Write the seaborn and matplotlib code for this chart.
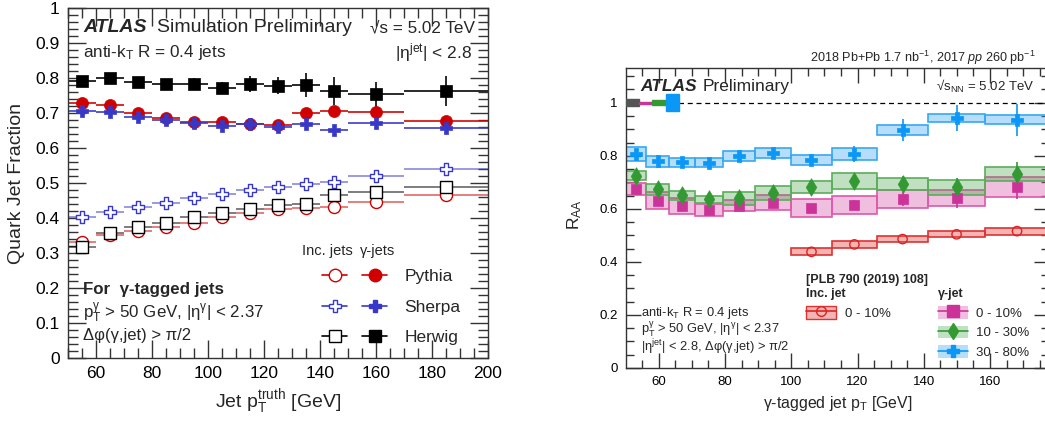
import numpy as np
import matplotlib
matplotlib.use("Agg")
import matplotlib.pyplot as plt
import seaborn as sns
from matplotlib.lines import Line2D
from matplotlib.patches import Patch
from matplotlib.legend_handler import HandlerTuple
from matplotlib.ticker import MultipleLocator, FuncFormatter

# ---------------- Quark-jet fraction vs truth jet pT ----------------
qf_edges = [50, 60, 70, 80, 90, 100, 110, 120, 130, 140, 150, 170, 200]

pythia_gamma = [0.730, 0.723, 0.699, 0.685, 0.674, 0.675, 0.669, 0.666, 0.701, 0.706, 0.702, 0.677]
pythia_gamma_err = [0.006, 0.006, 0.006, 0.006, 0.006, 0.006, 0.007, 0.008, 0.008, 0.009, 0.009, 0.010]
pythia_inc = [0.332, 0.351, 0.364, 0.375, 0.387, 0.404, 0.413, 0.425, 0.428, 0.432, 0.447, 0.466]

sherpa_gamma = [0.706, 0.704, 0.690, 0.680, 0.672, 0.663, 0.668, 0.661, 0.668, 0.651, 0.672, 0.658]
sherpa_gamma_err = [0.006, 0.006, 0.006, 0.007, 0.007, 0.008, 0.008, 0.009, 0.010, 0.014, 0.012, 0.015]
sherpa_inc = [0.404, 0.416, 0.432, 0.444, 0.456, 0.469, 0.480, 0.489, 0.497, 0.502, 0.520, 0.539]

herwig_gamma = [0.792, 0.799, 0.788, 0.782, 0.783, 0.772, 0.783, 0.778, 0.780, 0.763, 0.753, 0.763]
herwig_gamma_err = [0.008, 0.008, 0.010, 0.010, 0.017, 0.017, 0.023, 0.024, 0.033, 0.040, 0.036, 0.043]
herwig_inc = [0.318, 0.358, 0.375, 0.387, 0.402, 0.413, 0.425, 0.437, 0.439, 0.466, 0.473, 0.488]

inc_err = 0.004

# ---------------- Photon-tagged jet RAA ----------------
raa_edges = [50.1, 56.2, 63.1, 70.8, 79.4, 89.1, 100.0, 112.2, 125.9, 141.3, 158.5, 177.8]

raa_0_10 = [0.676, 0.631, 0.611, 0.596, 0.612, 0.623, 0.604, 0.614, 0.637, 0.640, 0.683]
raa_0_10_stat = [0.010, 0.010, 0.010, 0.010, 0.010, 0.012, 0.014, 0.020, 0.028, 0.035, 0.045]
raa_0_10_sys = [0.023, 0.033, 0.030, 0.022, 0.021, 0.028, 0.033, 0.033, 0.033, 0.031, 0.038]

raa_10_30 = [0.725, 0.673, 0.652, 0.636, 0.640, 0.659, 0.681, 0.706, 0.694, 0.681, 0.731]
raa_10_30_stat = [0.010, 0.010, 0.010, 0.010, 0.010, 0.012, 0.014, 0.020, 0.028, 0.035, 0.045]
raa_10_30_sys = [0.018, 0.021, 0.017, 0.014, 0.024, 0.026, 0.023, 0.030, 0.024, 0.028, 0.025]

raa_30_80 = [0.807, 0.780, 0.775, 0.774, 0.800, 0.812, 0.784, 0.807, 0.897, 0.943, 0.936]
raa_30_80_stat = [0.010, 0.012, 0.010, 0.010, 0.012, 0.015, 0.020, 0.030, 0.040, 0.050, 0.060]
raa_30_80_sys = [0.025, 0.021, 0.016, 0.017, 0.018, 0.019, 0.020, 0.022, 0.019, 0.016, 0.018]

inc_edges = [100.0, 112.2, 125.9, 141.3, 158.5, 177.8]
raa_inc = [0.438, 0.466, 0.486, 0.504, 0.516]
raa_inc_sys = [0.013, 0.013, 0.012, 0.012, 0.013]

# global uncertainties drawn at unity: pp luminosity, then TAA per centrality
norm_unc = [0.014, 0.003, 0.009, 0.032]

# ---------------- style ----------------
sns.set_theme(style="ticks")
plt.rcParams["font.family"] = ["Liberation Sans", "DejaVu Sans"]
plt.rcParams["mathtext.fontset"] = "custom"
plt.rcParams["mathtext.rm"] = "Liberation Sans"
plt.rcParams["mathtext.it"] = "Liberation Sans:italic"
plt.rcParams["mathtext.bf"] = "Liberation Sans:bold"
plt.rcParams["mathtext.default"] = "regular"

RED = "#d00000"
BLUE = "#3838c8"
BLACK = "#000000"

C_PINK = "#cc3399"
C_GREEN = "#339933"
C_SKY = "#0a97f5"
C_INC = "#dd2222"

fig = plt.figure(figsize=(10.45, 4.22), dpi=100)
axL = fig.add_axes([68 / 1045, 64 / 422, 420 / 1045, 350 / 422])
axR = fig.add_axes([626 / 1045, 54 / 422, 423 / 1045, 300 / 422])


def root_ticks(ax, major_len, minor_len, labelsize):
    ax.tick_params(which="both", direction="in", top=True, right=True,
                   colors="#333333", labelcolor="black", labelsize=labelsize)
    ax.tick_params(which="major", length=major_len, width=1.0, pad=6)
    ax.tick_params(which="minor", length=minor_len, width=1.0)
    for sp in ax.spines.values():
        sp.set_visible(True)
        sp.set_color("#333333")
        sp.set_linewidth(1.0)


fmt = FuncFormatter(lambda v, p: f"{v:g}")

# ---------------- left panel ----------------
ax = axL
edges = np.array(qf_edges, dtype=float)
centers = 0.5 * (edges[:-1] + edges[1:])
xerr = [centers - edges[:-1], edges[1:] - centers]

series = [
    (pythia_inc, None, RED, "o", 75),
    (sherpa_inc, None, BLUE, "P", 80),
    (herwig_inc, None, BLACK, "s", 85),
    (pythia_gamma, pythia_gamma_err, RED, "o", 75),
    (sherpa_gamma, sherpa_gamma_err, BLUE, "P", 80),
    (herwig_gamma, herwig_gamma_err, BLACK, "s", 85),
]
for vals, errs, col, mk, size in series:
    is_open = errs is None
    yerr = inc_err if is_open else errs
    ax.errorbar(centers, vals, xerr=xerr, yerr=yerr, fmt="none", ecolor=col,
                elinewidth=1.3, capsize=0, alpha=0.55 if is_open else 0.9, zorder=2)
    if is_open:
        sns.scatterplot(x=centers, y=vals, ax=ax, marker=mk, s=size,
                        facecolor="white", edgecolor=col, linewidth=1.0, zorder=3)
    else:
        sns.scatterplot(x=centers, y=vals, ax=ax, marker=mk, s=size,
                        color=col, edgecolor=col, linewidth=0.5, zorder=4)

ax.set_xlim(50, 200)
ax.set_ylim(0, 1)
ax.xaxis.set_major_locator(MultipleLocator(20))
ax.xaxis.set_minor_locator(MultipleLocator(5))
ax.yaxis.set_major_locator(MultipleLocator(0.1))
ax.yaxis.set_minor_locator(MultipleLocator(0.02))
ax.xaxis.set_major_formatter(fmt)
ax.yaxis.set_major_formatter(fmt)
root_ticks(ax, 13, 7, 12.5)
ax.set_xlabel(r"Jet $p_{T}^{truth}$ [GeV]", fontsize=14, labelpad=4)
ax.set_ylabel("Quark Jet Fraction", fontsize=14)
ax.yaxis.set_label_coords(-0.102, 0.5)

ax.text(0.036, 0.943, "ATLAS", transform=ax.transAxes, fontsize=14,
        fontweight="bold", fontstyle="italic", va="center", ha="left")
ax.text(0.212, 0.943, "Simulation Preliminary", transform=ax.transAxes,
        fontsize=14, va="center", ha="left")
ax.text(0.969, 0.943, "√s = 5.02 TeV", transform=ax.transAxes,
        fontsize=12.3, va="center", ha="right")
ax.text(0.036, 0.872, r"anti-$k_{T}$ R = 0.4 jets", transform=ax.transAxes,
        fontsize=12.3, va="center", ha="left")
ax.text(0.962, 0.872, r"$|η^{jet}|$ < 2.8", transform=ax.transAxes,
        fontsize=12.5, va="center", ha="right")

ax.text(0.036, 0.197, "For  γ-tagged jets", transform=ax.transAxes,
        fontsize=12.2, fontweight="bold", va="center", ha="left")
ax.text(0.036, 0.128, r"$p_{T}^{γ}$ > 50 GeV, $|η^{γ}|$ < 2.37", transform=ax.transAxes,
        fontsize=12.2, va="center", ha="left")
ax.text(0.036, 0.063, "Δφ(γ,jet) > π/2", transform=ax.transAxes,
        fontsize=12.0, va="center", ha="left")

ax.text(0.617, 0.306, "Inc. jets", transform=ax.transAxes, fontsize=10.5,
        va="center", ha="center")
ax.text(0.738, 0.306, "γ-jets", transform=ax.transAxes, fontsize=10.5,
        va="center", ha="center")

handles = []
for col, mk in [(RED, "o"), (BLUE, "P"), (BLACK, "s")]:
    h_open = Line2D([], [], color=col, marker=mk, markersize=9,
                    markerfacecolor="white", markeredgecolor=col, lw=1.2, alpha=1)
    h_full = Line2D([], [], color=col, marker=mk, markersize=9,
                    markerfacecolor=col, markeredgecolor=col, lw=1.2)
    handles.append((h_open, h_full))
ax.legend(handles, ["Pythia", "Sherpa", "Herwig"],
          handler_map={tuple: HandlerTuple(ndivide=None, pad=0.85)},
          loc="upper left", bbox_to_anchor=(0.605, 0.254), frameon=False,
          fontsize=12.5, handlelength=3.75, handletextpad=1.0,
          labelspacing=0.88, borderpad=0, borderaxespad=0)

# ---------------- right panel ----------------
ax = axR
e = np.array(raa_edges)
c = 0.5 * (e[:-1] + e[1:])
w = np.diff(e)

cent_series = [
    (raa_0_10, raa_0_10_stat, raa_0_10_sys, C_PINK, (0.85, 0.35, 0.68, 0.38), "#dd5aaa", "s", 45),
    (raa_10_30, raa_10_30_stat, raa_10_30_sys, C_GREEN, (0.25, 0.62, 0.25, 0.32), "#5aae5a", "d", 80),
    (raa_30_80, raa_30_80_stat, raa_30_80_sys, C_SKY, (0.25, 0.65, 0.95, 0.38), "#38a8f2", "P", 80),
]

# inclusive-jet reference
ie = np.array(inc_edges)
ic = 0.5 * (ie[:-1] + ie[1:])
iv = np.array(raa_inc)
isys = np.array(raa_inc_sys)
ax.bar(ie[:-1], 2 * isys, bottom=iv - isys, width=np.diff(ie), align="edge",
       color=(0.9, 0.35, 0.35, 0.45), edgecolor="#dd3333", linewidth=1.2, zorder=2)
sns.scatterplot(x=ic, y=iv, ax=ax, marker="o", s=45, facecolor="none",
                edgecolor=C_INC, linewidth=1.0, zorder=5)

for vals, stat, sysu, mcol, fill, edge, mk, size in cent_series:
    v = np.array(vals)
    s_ = np.array(sysu)
    ax.bar(e[:-1], 2 * s_, bottom=v - s_, width=w, align="edge",
           color=fill, edgecolor=edge, linewidth=1.2, zorder=2)
for vals, stat, sysu, mcol, fill, edge, mk, size in cent_series:
    ax.errorbar(c, vals, yerr=stat, fmt="none", ecolor=mcol, elinewidth=1.2,
                capsize=0, zorder=4)
    sns.scatterplot(x=c, y=vals, ax=ax, marker=mk, s=size, color=mcol,
                    edgecolor=mcol, linewidth=0.5, zorder=5)

ax.axhline(1.0, color="black", lw=0.9, ls=(0, (4, 3)), zorder=1)
norm_cols = ["#555555", C_PINK, C_GREEN, C_SKY]
norm_x0 = 50.1
norm_w = 4.0
for i, (u, col) in enumerate(zip(norm_unc, norm_cols)):
    ax.bar(norm_x0 + i * norm_w, 2 * u, bottom=1 - u, width=norm_w, align="edge",
           color=col, edgecolor=col, linewidth=1.0, zorder=3)

ax.set_xlim(50.1, 177.8)
ax.set_ylim(0, 1.131)
ax.xaxis.set_major_locator(MultipleLocator(20))
ax.xaxis.set_minor_locator(MultipleLocator(5))
ax.yaxis.set_major_locator(MultipleLocator(0.2))
ax.yaxis.set_minor_locator(MultipleLocator(0.05))
ax.xaxis.set_major_formatter(fmt)
ax.yaxis.set_major_formatter(fmt)
root_ticks(ax, 11, 6, 9.5)
ax.set_xlabel(r"γ-tagged jet $p_{T}$ [GeV]", fontsize=11.4, labelpad=4)
ax.set_ylabel(r"$R_{AA}$", fontsize=12.5)
ax.yaxis.set_label_coords(-0.099, 0.51)

ax.text(0.035, 0.937, "ATLAS", transform=ax.transAxes, fontsize=12.5,
        fontweight="bold", fontstyle="italic", va="center", ha="left")
ax.text(0.182, 0.937, "Preliminary", transform=ax.transAxes, fontsize=12.5,
        va="center", ha="left")
ax.text(0.967, 0.937, r"√$s_{NN}$ = 5.02 TeV", transform=ax.transAxes,
        fontsize=9.5, va="center", ha="right")
ax.text(0.969, 1.035, r"2018 Pb+Pb 1.7 nb$^{-1}$, 2017 $\mathit{pp}$ 260 pb$^{-1}$",
        transform=ax.transAxes, fontsize=9.1, va="center", ha="right")

ax.text(0.035, 0.182, r"anti-$k_{T}$ R = 0.4 jets", transform=ax.transAxes,
        fontsize=9.3, va="center", ha="left")
ax.text(0.035, 0.127, r"$p_{T}^{γ}$ > 50 GeV, $|η^{γ}|$ < 2.37", transform=ax.transAxes,
        fontsize=9.3, va="center", ha="left")
ax.text(0.035, 0.068, r"$|η^{jet}|$ < 2.8, Δφ(γ,jet) > π/2", transform=ax.transAxes,
        fontsize=9.3, va="center", ha="left")

ax.text(0.426, 0.293, "[PLB 790 (2019) 108]", transform=ax.transAxes, fontsize=9,
        fontweight="bold", va="center", ha="left")
ax.text(0.426, 0.247, "Inc. jet", transform=ax.transAxes, fontsize=9,
        fontweight="bold", va="center", ha="left")
ax.text(0.738, 0.247, "γ-jet", transform=ax.transAxes, fontsize=9,
        fontweight="bold", va="center", ha="left")

inc_handle = (Patch(facecolor=(0.9, 0.35, 0.35, 0.45), edgecolor="#dd3333", lw=1.0),
              Line2D([], [], color=C_INC, marker="o", markersize=7,
                     markerfacecolor="none", markeredgecolor=C_INC, lw=1.2))
leg1 = ax.legend([inc_handle], ["0 - 10%"],
                 handler_map={tuple: HandlerTuple(ndivide=1)},
                 loc="upper left", bbox_to_anchor=(0.426, 0.207), frameon=False,
                 fontsize=9.5, handlelength=2.25, handleheight=1.1,
                 handletextpad=0.7, borderpad=0, borderaxespad=0)
ax.add_artist(leg1)

g_handles = []
for vals, stat, sysu, mcol, fill, edge, mk, size in cent_series:
    g_handles.append((Patch(facecolor=fill, edgecolor="none"),
                      Line2D([], [], color=mcol, marker=mk, markersize=8,
                             markerfacecolor=mcol, markeredgecolor=mcol, lw=1.2)))
ax.legend(g_handles, ["0 - 10%", "10 - 30%", "30 - 80%"],
          handler_map={tuple: HandlerTuple(ndivide=1)},
          loc="upper left", bbox_to_anchor=(0.738, 0.207), frameon=False,
          fontsize=9.5, handlelength=2.25, handleheight=1.1,
          handletextpad=0.6, labelspacing=0.45, borderpad=0, borderaxespad=0)

fig.savefig("out.png", dpi=100, facecolor="white")
